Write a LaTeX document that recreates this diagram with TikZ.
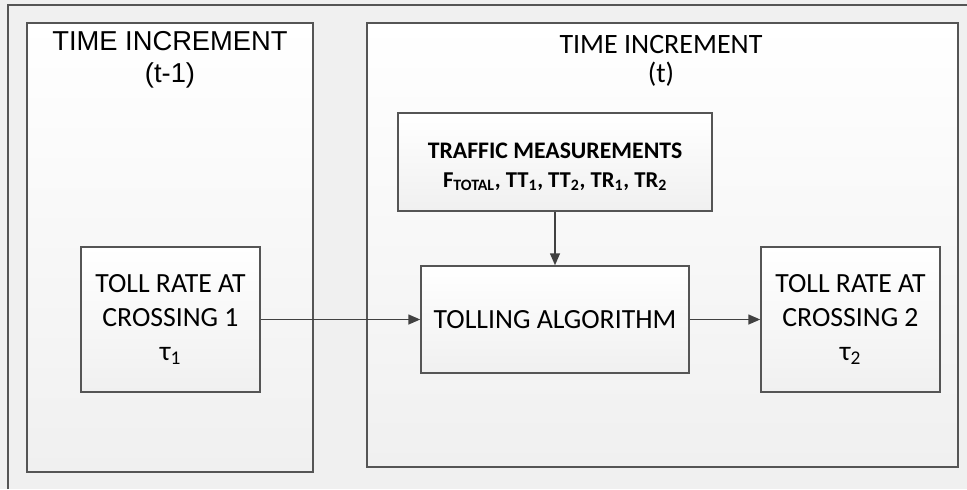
\documentclass[tikz,border=0pt]{standalone}
\usepackage{fontspec}
\setmainfont{Carlito}
\newfontfamily\arialfont{Liberation Sans}
\usetikzlibrary{arrows.meta,positioning}
\definecolor{framegray}{RGB}{85,85,85}
\definecolor{backgray}{RGB}{240,240,240}
\definecolor{linkgray}{RGB}{65,65,65}

\begin{document}
\begin{tikzpicture}[x=0.75pt, y=-0.75pt,
    panel/.style={draw=framegray, line width=1.1pt, top color=white, bottom color=backgray, inner sep=0pt},
    blockbox/.style={draw=framegray, line width=1.1pt, top color=white, bottom color=backgray,
        align=center, inner sep=0pt, font=\fontsize{20.8}{25.5}\selectfont},
    paneltitle/.style={align=center, anchor=north, inner sep=0pt},
    link/.style={draw=linkgray, line width=1.1pt, -{Triangle[length=9pt, width=7.5pt]}}
]
    % Canvas
    \useasboundingbox (0,0) rectangle (967,489);
    \fill[backgray] (0,0) rectangle (967,489);
    \draw[framegray, line width=1.1pt] (8,489) -- (8,5) -- (967,5);

    % Left panel: previous time increment
    \node[panel, minimum width=214.5pt, minimum height=336.75pt] (pastpanel) at (170,247.5) {};
    \node[paneltitle, font=\arialfont\fontsize{20.5}{24}\selectfont] (pasttitle) at (170,31)
        {TIME INCREMENT\\(t-1)};
    \node[blockbox, minimum width=134.25pt, minimum height=108.75pt] (toll1) at (170.5,319.5)
        {TOLL RATE AT\\CROSSING 1\\τ\textsubscript{1}};

    % Right panel: current time increment
    \node[panel, minimum width=443.25pt, minimum height=333pt] (nowpanel) at (662.5,245) {};
    \node[paneltitle, font=\fontsize{21}{21.5}\selectfont] (nowtitle) at (661,35)
        {TIME INCREMENT\\(t)};
    \node[blockbox, minimum width=235.5pt, minimum height=73.5pt,
        font=\bfseries\fontsize{17}{20.5}\selectfont] (traffic) at (555,162)
        {\rule{0pt}{19pt}\fontsize{17.8}{20.5}\selectfont TRAFFIC MEASUREMENTS\\[1pt]
         F\textsubscript{TOTAL}, TT\textsubscript{1}, TT\textsubscript{2}, TR\textsubscript{1}, TR\textsubscript{2}};
    \node[blockbox, minimum width=201pt, minimum height=80.25pt] (algo) at (555,319.5)
        {TOLLING ALGORITHM};
    \node[blockbox, minimum width=134.25pt, minimum height=108.75pt] (toll2) at (850.5,319.5)
        {TOLL RATE AT\\CROSSING 2\\τ\textsubscript{2}};

    % Connectors
    \draw[link] (toll1) -- (algo);
    \draw[link] (traffic) -- (algo);
    \draw[link] (algo) -- (toll2);
\end{tikzpicture}
\end{document}
